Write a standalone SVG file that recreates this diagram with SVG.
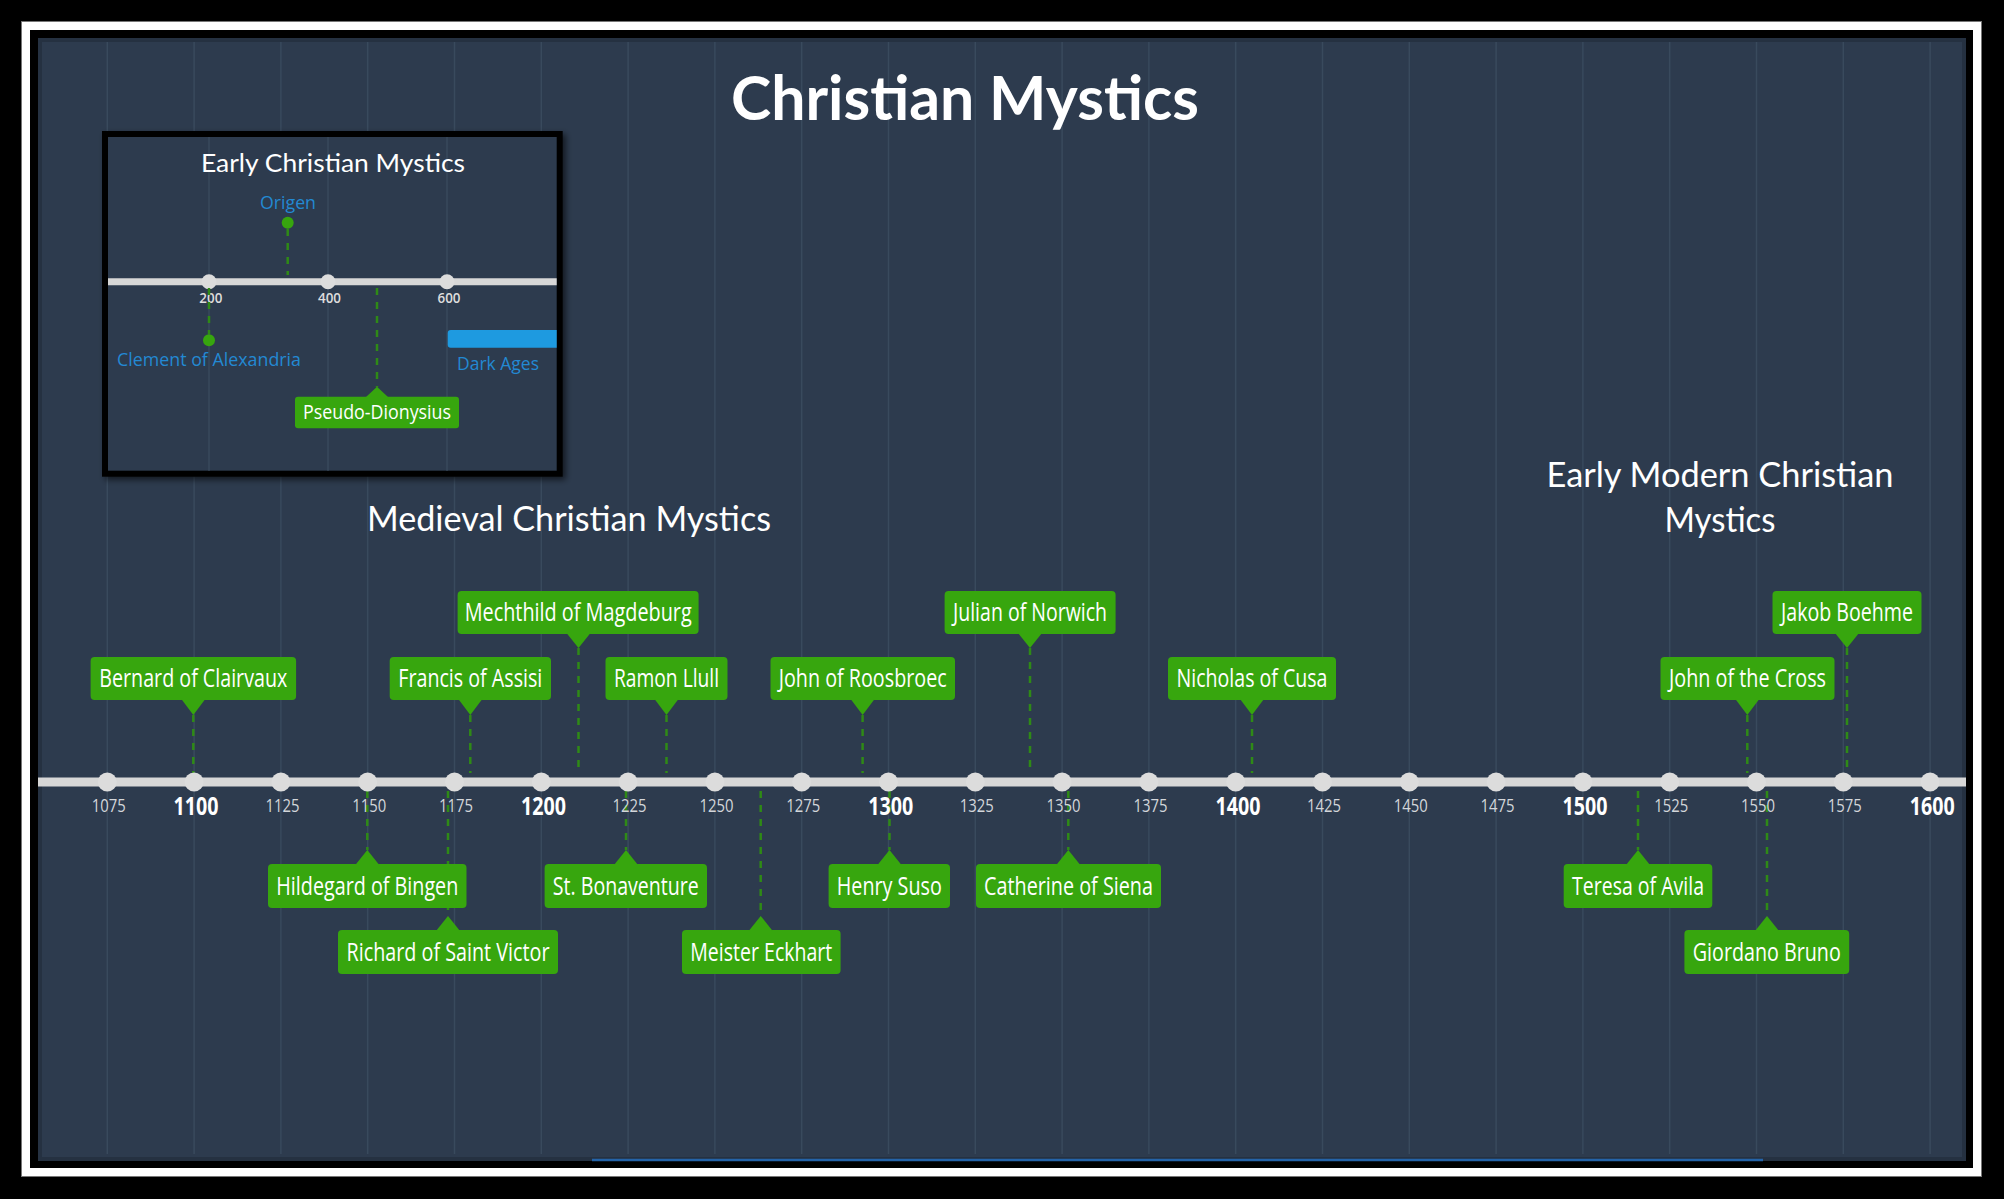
<svg xmlns="http://www.w3.org/2000/svg" width="2004" height="1199" viewBox="0 0 2004 1199">
<defs>
<style>
.grid{stroke:#394a5d;stroke-width:1.5}
.axis{stroke:#d7d7d7;stroke-width:9}
.dot{fill:#dcdcdc}
.tk{font-family:"Open Sans","DejaVu Sans",sans-serif;font-size:19px;fill:#d3d6da;text-anchor:middle}
.tkb{font-family:"Open Sans","DejaVu Sans",sans-serif;font-size:25px;font-weight:700;fill:#ffffff;text-anchor:middle}
.box{fill:#37a60e}
.lbl{font-family:"Open Sans","DejaVu Sans",sans-serif;font-size:26px;fill:#ffffff;text-anchor:middle}
.conn{stroke:#2f8a16;stroke-width:2.5;stroke-dasharray:7 7;fill:none}
.title{font-family:Lato,"Open Sans",sans-serif;fill:#ffffff;text-anchor:middle}
.blue{font-family:"Open Sans","DejaVu Sans",sans-serif;font-size:19px;fill:#2389d3;text-anchor:middle}
</style>
<filter id="sh" x="-10%" y="-10%" width="125%" height="125%">
<feDropShadow dx="3" dy="3" stdDeviation="3" flood-color="#000" flood-opacity="0.6"/>
</filter>
<clipPath id="insetClip"><rect x="108" y="137" width="448.7" height="333.7"/></clipPath>
</defs>
<rect x="0" y="0" width="2004" height="1199" fill="#000"/>
<rect x="26" y="26" width="1951" height="1146" fill="none" stroke="#ffffff" stroke-width="8"/>
<rect x="21.5" y="21.5" width="1960" height="1155" fill="none" stroke="#777" stroke-width="1"/>
<rect x="38" y="38" width="1928" height="1123" fill="#2d3b4e"/>
<rect x="40" y="40" width="1924" height="1119" fill="none" stroke="#253141" stroke-width="4"/>
<line x1="592" y1="1160" x2="1763" y2="1160" stroke="#2463a8" stroke-width="2.5"/>
<g id="grid">
<line class="grid" x1="107.3" y1="42" x2="107.3" y2="1154"/>
<line class="grid" x1="194.1" y1="42" x2="194.1" y2="1154"/>
<line class="grid" x1="280.9" y1="42" x2="280.9" y2="1154"/>
<line class="grid" x1="367.7" y1="42" x2="367.7" y2="1154"/>
<line class="grid" x1="454.5" y1="42" x2="454.5" y2="1154"/>
<line class="grid" x1="541.3" y1="42" x2="541.3" y2="1154"/>
<line class="grid" x1="628.1" y1="42" x2="628.1" y2="1154"/>
<line class="grid" x1="714.9" y1="42" x2="714.9" y2="1154"/>
<line class="grid" x1="801.7" y1="42" x2="801.7" y2="1154"/>
<line class="grid" x1="888.5" y1="42" x2="888.5" y2="1154"/>
<line class="grid" x1="975.3" y1="42" x2="975.3" y2="1154"/>
<line class="grid" x1="1062.1" y1="42" x2="1062.1" y2="1154"/>
<line class="grid" x1="1148.9" y1="42" x2="1148.9" y2="1154"/>
<line class="grid" x1="1235.7" y1="42" x2="1235.7" y2="1154"/>
<line class="grid" x1="1322.5" y1="42" x2="1322.5" y2="1154"/>
<line class="grid" x1="1409.3" y1="42" x2="1409.3" y2="1154"/>
<line class="grid" x1="1496.1" y1="42" x2="1496.1" y2="1154"/>
<line class="grid" x1="1582.9" y1="42" x2="1582.9" y2="1154"/>
<line class="grid" x1="1669.7" y1="42" x2="1669.7" y2="1154"/>
<line class="grid" x1="1756.5" y1="42" x2="1756.5" y2="1154"/>
<line class="grid" x1="1843.3" y1="42" x2="1843.3" y2="1154"/>
<line class="grid" x1="1930.1" y1="42" x2="1930.1" y2="1154"/>
</g>
<g id="titles">
<text class="title" x="965" y="120" font-size="62" font-weight="700" textLength="468" lengthAdjust="spacingAndGlyphs">Christian Mystics</text>
<text class="title" x="569" y="531" font-size="34" textLength="404" lengthAdjust="spacingAndGlyphs">Medieval Christian Mystics</text>
<text class="title" x="1720" y="487" font-size="34" textLength="347" lengthAdjust="spacingAndGlyphs">Early Modern Christian</text>
<text class="title" x="1720" y="532" font-size="34" textLength="111" lengthAdjust="spacingAndGlyphs">Mystics</text>
</g>
<g id="early-inset">
<rect x="105" y="134" width="454.7" height="339.7" fill="#000" stroke="#000" stroke-width="6" filter="url(#sh)"/>
<rect x="108" y="137" width="448.7" height="333.7" fill="#2d3b4e"/>
<g clip-path="url(#insetClip)">
<line class="grid" x1="209" y1="137" x2="209" y2="471"/>
<line class="grid" x1="328" y1="137" x2="328" y2="471"/>
<line class="grid" x1="447" y1="137" x2="447" y2="471"/>
<text class="title" x="333" y="172" font-size="25.5" textLength="264" lengthAdjust="spacingAndGlyphs">Early Christian Mystics</text>
<line x1="108" y1="281.7" x2="557" y2="281.7" stroke="#d7d7d7" stroke-width="7"/>
<circle class="dot" cx="209" cy="281.7" r="7.5"/>
<circle class="dot" cx="328" cy="281.7" r="7.5"/>
<circle class="dot" cx="447" cy="281.7" r="7.5"/>
<g font-family="'Open Sans','DejaVu Sans',sans-serif" font-size="14" font-weight="600" fill="#dddddd" text-anchor="middle">
<text x="210.8" y="302.7" textLength="23" lengthAdjust="spacingAndGlyphs">200</text>
<text x="329.5" y="302.7" textLength="23" lengthAdjust="spacingAndGlyphs">400</text>
<text x="449" y="302.7" textLength="23" lengthAdjust="spacingAndGlyphs">600</text>
</g>
<line class="conn" x1="287.7" y1="229" x2="287.7" y2="275" stroke-width="2" stroke-dasharray="6 6"/>
<line class="conn" x1="209" y1="288" x2="209" y2="334" stroke-width="2" stroke-dasharray="6 6"/>
<line class="conn" x1="377" y1="288" x2="377" y2="387" stroke-width="2" stroke-dasharray="6 6"/>
<circle cx="287.7" cy="222.7" r="6" fill="#37a60e"/>
<circle cx="209" cy="340.3" r="6" fill="#37a60e"/>
<text class="blue" x="288" y="209.3" textLength="56" lengthAdjust="spacingAndGlyphs">Origen</text>
<text class="blue" x="209" y="365.7" textLength="184" lengthAdjust="spacingAndGlyphs">Clement of Alexandria</text>
<path d="M450.7,330 H557 V347.7 H450.7 Q447.7,347.7 447.7,344.7 V333 Q447.7,330 450.7,330 Z" fill="#1e9ae0"/>
<text class="blue" x="498" y="370" textLength="82" lengthAdjust="spacingAndGlyphs">Dark Ages</text>
<g id="node-pseudo-dionysius">
<rect class="box" x="295" y="396.7" width="164" height="31.6" rx="3"/>
<polygon class="box" points="366,397 388,397 377,386.7"/>
<text x="377" y="419" font-family="'Open Sans','DejaVu Sans',sans-serif" font-size="19.5" fill="#fff" text-anchor="middle" textLength="148" lengthAdjust="spacingAndGlyphs">Pseudo-Dionysius</text>
</g>
</g>
</g>
<g id="connectors">
<line class="conn" x1="193.3" y1="715" x2="193.3" y2="773"/>
<line class="conn" x1="470.3" y1="715" x2="470.3" y2="773"/>
<line class="conn" x1="578.5" y1="648" x2="578.5" y2="773"/>
<line class="conn" x1="666.5" y1="715" x2="666.5" y2="773"/>
<line class="conn" x1="862.6" y1="715" x2="862.6" y2="773"/>
<line class="conn" x1="1030" y1="648" x2="1030" y2="773"/>
<line class="conn" x1="1252" y1="715" x2="1252" y2="773"/>
<line class="conn" x1="1747.3" y1="715" x2="1747.3" y2="773"/>
<line class="conn" x1="1847" y1="648" x2="1847" y2="773"/>
<line class="conn" x1="367.3" y1="791" x2="367.3" y2="850"/>
<line class="conn" x1="448" y1="791" x2="448" y2="916"/>
<line class="conn" x1="626" y1="791" x2="626" y2="850"/>
<line class="conn" x1="760.7" y1="791" x2="760.7" y2="916"/>
<line class="conn" x1="889.5" y1="791" x2="889.5" y2="850"/>
<line class="conn" x1="1068.3" y1="791" x2="1068.3" y2="850"/>
<line class="conn" x1="1638" y1="791" x2="1638" y2="850"/>
<line class="conn" x1="1767" y1="791" x2="1767" y2="916"/>
</g>
<g id="axis">
<line class="axis" x1="38" y1="782" x2="1966" y2="782"/>
<circle class="dot" cx="107.3" cy="782" r="9.5"/>
<circle class="dot" cx="194.1" cy="782" r="9.5"/>
<circle class="dot" cx="280.9" cy="782" r="9.5"/>
<circle class="dot" cx="367.7" cy="782" r="9.5"/>
<circle class="dot" cx="454.5" cy="782" r="9.5"/>
<circle class="dot" cx="541.3" cy="782" r="9.5"/>
<circle class="dot" cx="628.1" cy="782" r="9.5"/>
<circle class="dot" cx="714.9" cy="782" r="9.5"/>
<circle class="dot" cx="801.7" cy="782" r="9.5"/>
<circle class="dot" cx="888.5" cy="782" r="9.5"/>
<circle class="dot" cx="975.3" cy="782" r="9.5"/>
<circle class="dot" cx="1062.1" cy="782" r="9.5"/>
<circle class="dot" cx="1148.9" cy="782" r="9.5"/>
<circle class="dot" cx="1235.7" cy="782" r="9.5"/>
<circle class="dot" cx="1322.5" cy="782" r="9.5"/>
<circle class="dot" cx="1409.3" cy="782" r="9.5"/>
<circle class="dot" cx="1496.1" cy="782" r="9.5"/>
<circle class="dot" cx="1582.9" cy="782" r="9.5"/>
<circle class="dot" cx="1669.7" cy="782" r="9.5"/>
<circle class="dot" cx="1756.5" cy="782" r="9.5"/>
<circle class="dot" cx="1843.3" cy="782" r="9.5"/>
<circle class="dot" cx="1930.1" cy="782" r="9.5"/>
<text class="tk" x="108.8" y="811.5" textLength="34" lengthAdjust="spacingAndGlyphs">1075</text>
<text class="tkb" x="196" y="815" textLength="45" lengthAdjust="spacingAndGlyphs">1100</text>
<text class="tk" x="282.4" y="811.5" textLength="34" lengthAdjust="spacingAndGlyphs">1125</text>
<text class="tk" x="369.2" y="811.5" textLength="34" lengthAdjust="spacingAndGlyphs">1150</text>
<text class="tk" x="456" y="811.5" textLength="34" lengthAdjust="spacingAndGlyphs">1175</text>
<text class="tkb" x="543.5" y="815" textLength="45" lengthAdjust="spacingAndGlyphs">1200</text>
<text class="tk" x="629.6" y="811.5" textLength="34" lengthAdjust="spacingAndGlyphs">1225</text>
<text class="tk" x="716.4" y="811.5" textLength="34" lengthAdjust="spacingAndGlyphs">1250</text>
<text class="tk" x="803.2" y="811.5" textLength="34" lengthAdjust="spacingAndGlyphs">1275</text>
<text class="tkb" x="890.7" y="815" textLength="45" lengthAdjust="spacingAndGlyphs">1300</text>
<text class="tk" x="976.8" y="811.5" textLength="34" lengthAdjust="spacingAndGlyphs">1325</text>
<text class="tk" x="1063.6" y="811.5" textLength="34" lengthAdjust="spacingAndGlyphs">1350</text>
<text class="tk" x="1150.4" y="811.5" textLength="34" lengthAdjust="spacingAndGlyphs">1375</text>
<text class="tkb" x="1237.9" y="815" textLength="45" lengthAdjust="spacingAndGlyphs">1400</text>
<text class="tk" x="1324" y="811.5" textLength="34" lengthAdjust="spacingAndGlyphs">1425</text>
<text class="tk" x="1410.8" y="811.5" textLength="34" lengthAdjust="spacingAndGlyphs">1450</text>
<text class="tk" x="1497.6" y="811.5" textLength="34" lengthAdjust="spacingAndGlyphs">1475</text>
<text class="tkb" x="1585.1" y="815" textLength="45" lengthAdjust="spacingAndGlyphs">1500</text>
<text class="tk" x="1671.2" y="811.5" textLength="34" lengthAdjust="spacingAndGlyphs">1525</text>
<text class="tk" x="1758" y="811.5" textLength="34" lengthAdjust="spacingAndGlyphs">1550</text>
<text class="tk" x="1844.8" y="811.5" textLength="34" lengthAdjust="spacingAndGlyphs">1575</text>
<text class="tkb" x="1932.3" y="815" textLength="45" lengthAdjust="spacingAndGlyphs">1600</text>
</g>
<g id="node-bernard-of-clairvaux">
<rect class="box" x="90.6" y="657" width="205.5" height="43" rx="4"/>
<polygon class="box" points="181.3,699 205.3,699 193.3,715"/>
<text class="lbl" x="193.3" y="687" textLength="188" lengthAdjust="spacingAndGlyphs">Bernard of Clairvaux</text>
</g>
<g id="node-francis-of-assisi">
<rect class="box" x="389.7" y="657" width="161.3" height="43" rx="4"/>
<polygon class="box" points="458.3,699 482.3,699 470.3,715"/>
<text class="lbl" x="470.3" y="687" textLength="144" lengthAdjust="spacingAndGlyphs">Francis of Assisi</text>
</g>
<g id="node-mechthild-of-magdeburg">
<rect class="box" x="457.6" y="591" width="241" height="43" rx="4"/>
<polygon class="box" points="566.5,633 590.5,633 578.5,648"/>
<text class="lbl" x="578.2" y="621" textLength="227" lengthAdjust="spacingAndGlyphs">Mechthild of Magdeburg</text>
</g>
<g id="node-ramon-llull">
<rect class="box" x="605.5" y="657" width="122" height="43" rx="4"/>
<polygon class="box" points="654.5,699 678.5,699 666.5,715"/>
<text class="lbl" x="666.5" y="687" textLength="105" lengthAdjust="spacingAndGlyphs">Ramon Llull</text>
</g>
<g id="node-john-of-roosbroec">
<rect class="box" x="770.5" y="657" width="184.5" height="43" rx="4"/>
<polygon class="box" points="850.6,699 874.6,699 862.6,715"/>
<text class="lbl" x="862.7" y="687" textLength="168" lengthAdjust="spacingAndGlyphs">John of Roosbroec</text>
</g>
<g id="node-julian-of-norwich">
<rect class="box" x="944.6" y="591" width="171" height="43" rx="4"/>
<polygon class="box" points="1018,633 1042,633 1030,648"/>
<text class="lbl" x="1030" y="621" textLength="154" lengthAdjust="spacingAndGlyphs">Julian of Norwich</text>
</g>
<g id="node-nicholas-of-cusa">
<rect class="box" x="1168" y="657" width="168" height="43" rx="4"/>
<polygon class="box" points="1240,699 1264,699 1252,715"/>
<text class="lbl" x="1252" y="687" textLength="151" lengthAdjust="spacingAndGlyphs">Nicholas of Cusa</text>
</g>
<g id="node-john-of-the-cross">
<rect class="box" x="1660.5" y="657" width="174" height="43" rx="4"/>
<polygon class="box" points="1735.3,699 1759.3,699 1747.3,715"/>
<text class="lbl" x="1747.5" y="687" textLength="157" lengthAdjust="spacingAndGlyphs">John of the Cross</text>
</g>
<g id="node-jakob-boehme">
<rect class="box" x="1772.5" y="591" width="149" height="43" rx="4"/>
<polygon class="box" points="1835,633 1859,633 1847,648"/>
<text class="lbl" x="1847" y="621" textLength="132" lengthAdjust="spacingAndGlyphs">Jakob Boehme</text>
</g>
<g id="node-hildegard-of-bingen">
<rect class="box" x="268" y="864" width="198.5" height="44" rx="4"/>
<polygon class="box" points="355.3,865 379.3,865 367.3,850"/>
<text class="lbl" x="367.3" y="895" textLength="182" lengthAdjust="spacingAndGlyphs">Hildegard of Bingen</text>
</g>
<g id="node-richard-of-saint-victor">
<rect class="box" x="338" y="930" width="220" height="44" rx="4"/>
<polygon class="box" points="436,931 460,931 448,916"/>
<text class="lbl" x="448" y="961" textLength="203" lengthAdjust="spacingAndGlyphs">Richard of Saint Victor</text>
</g>
<g id="node-st-bonaventure">
<rect class="box" x="544.6" y="864" width="162.4" height="44" rx="4"/>
<polygon class="box" points="614,865 638,865 626,850"/>
<text class="lbl" x="625.8" y="895" textLength="146" lengthAdjust="spacingAndGlyphs">St. Bonaventure</text>
</g>
<g id="node-meister-eckhart">
<rect class="box" x="682" y="930" width="158.6" height="44" rx="4"/>
<polygon class="box" points="748.7,931 772.7,931 760.7,916"/>
<text class="lbl" x="761.3" y="961" textLength="142" lengthAdjust="spacingAndGlyphs">Meister Eckhart</text>
</g>
<g id="node-henry-suso">
<rect class="box" x="828.6" y="864" width="121.4" height="44" rx="4"/>
<polygon class="box" points="877.5,865 901.5,865 889.5,850"/>
<text class="lbl" x="889.3" y="895" textLength="105" lengthAdjust="spacingAndGlyphs">Henry Suso</text>
</g>
<g id="node-catherine-of-siena">
<rect class="box" x="976" y="864" width="185" height="44" rx="4"/>
<polygon class="box" points="1056.3,865 1080.3,865 1068.3,850"/>
<text class="lbl" x="1068.5" y="895" textLength="169" lengthAdjust="spacingAndGlyphs">Catherine of Siena</text>
</g>
<g id="node-teresa-of-avila">
<rect class="box" x="1563.7" y="864" width="148.6" height="44" rx="4"/>
<polygon class="box" points="1626,865 1650,865 1638,850"/>
<text class="lbl" x="1638" y="895" textLength="132" lengthAdjust="spacingAndGlyphs">Teresa of Avila</text>
</g>
<g id="node-giordano-bruno">
<rect class="box" x="1684.4" y="930" width="164.8" height="44" rx="4"/>
<polygon class="box" points="1755,931 1779,931 1767,916"/>
<text class="lbl" x="1766.8" y="961" textLength="148" lengthAdjust="spacingAndGlyphs">Giordano Bruno</text>
</g>
</svg>
